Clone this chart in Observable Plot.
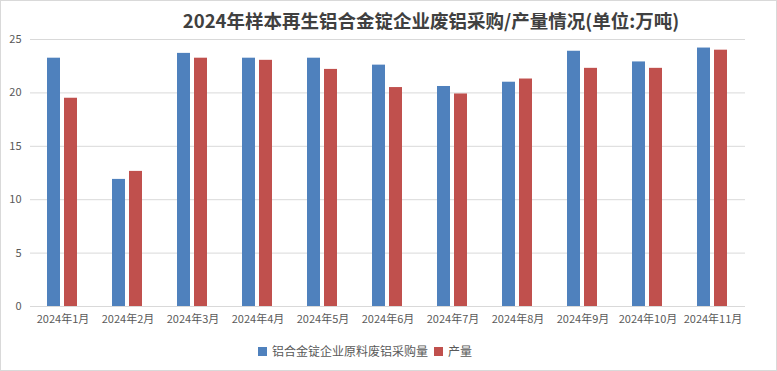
<!DOCTYPE html>
<html>
<head>
<meta charset="utf-8">
<script src="https://cdn.jsdelivr.net/npm/d3@7"></script>
<script src="https://cdn.jsdelivr.net/npm/@observablehq/plot@0.6"></script>
<style>
  html, body { margin: 0; padding: 0; background: #fff; }
  #chart { position: relative; width: 777px; height: 371px; overflow: hidden; font-family: "Noto Sans CJK SC", "Noto Sans", sans-serif; }
  #frame { position: absolute; left: 0; top: 0; width: 777px; height: 371px; box-sizing: border-box; border: 1px solid #d9d9d9; pointer-events: none; }
  #title { position: absolute; top: 5px; left: 431px; transform: translateX(-50%); white-space: nowrap; font-size: 18.5px; font-weight: bold; color: #404040; line-height: 30px; }
  .layer { position: absolute; left: 0; top: 30px; }
  .layer svg { display: block; }
  #legend { position: absolute; top: 342px; left: 258px; display: flex; align-items: center; font-size: 12px; color: #595959; line-height: 18px; white-space: nowrap; }
  .sw { display: inline-block; width: 9px; height: 9px; margin-right: 5px; }
  .item { display: flex; align-items: center; margin-right: 6px; }
</style>
</head>
<body>
<div id="chart">
  <div id="title"></div>
  <div id="back" class="layer"></div>
  <div id="bars" class="layer"></div>
  <div id="legend"></div>
  <div id="frame"></div>
</div>
<script>
const titleText = "2024年样本再生铝合金锭企业废铝采购/产量情况(单位:万吨)";
const months = ["2024年1月","2024年2月","2024年3月","2024年4月","2024年5月","2024年6月","2024年7月","2024年8月","2024年9月","2024年10月","2024年11月"];
const seriesNames = ["铝合金锭企业原料废铝采购量", "产量"];
const seriesColors = ["#4F81BD", "#C0504D"];
const purchase = [23.25, 11.9, 23.7, 23.25, 23.25, 22.6, 20.6, 21.0, 23.9, 22.9, 24.2];
const output = [19.5, 12.65, 23.25, 23.05, 22.2, 20.5, 19.9, 21.3, 22.3, 22.3, 24.0];
const yTicks = [0, 5, 10, 15, 20, 25];

const data = months.flatMap((m, i) => [
  {month: m, series: seriesNames[0], value: purchase[i]},
  {month: m, series: seriesNames[1], value: output[i]}
]);

document.getElementById("title").textContent = titleText;

const common = {
  width: 777,
  height: 305,
  marginTop: 9,
  marginBottom: 29,
  marginLeft: 30,
  marginRight: 32,
  style: {fontFamily: "'Noto Sans CJK SC', 'Noto Sans', sans-serif", fontSize: "11px", color: "#595959", background: "transparent"}
};

// Background: gridlines, y tick labels, month labels
const back = Plot.plot({
  ...common,
  x: {type: "band", domain: months, padding: 0, label: null},
  y: {domain: [0, 25], label: null},
  marks: [
    Plot.gridY(yTicks.filter(t => t > 0), {stroke: "#d9d9d9", strokeOpacity: 1}),
    Plot.ruleY([0], {stroke: "#d9d9d9"}),
    Plot.axisY(yTicks, {tickSize: 0, tickPadding: 9, label: null, fill: "#595959"}),
    Plot.axisX({tickSize: 0, tickPadding: 9, label: null, fill: "#595959"})
  ]
});
document.getElementById("back").appendChild(back);

// Foreground: grouped bars
const bars = Plot.plot({
  ...common,
  fx: {domain: months, paddingInner: 0.52, paddingOuter: 0.26, label: null, axis: null},
  x: {domain: seriesNames, paddingInner: 0.22, paddingOuter: 0, axis: null},
  y: {domain: [0, 25], axis: null},
  color: {domain: seriesNames, range: seriesColors},
  marks: [
    Plot.barY(data, {fx: "month", x: "series", y: "value", fill: "series"})
  ]
});
document.getElementById("bars").appendChild(bars);

const legend = document.getElementById("legend");
seriesNames.forEach((name, i) => {
  const item = document.createElement("div");
  item.className = "item";
  const sw = document.createElement("span");
  sw.className = "sw";
  sw.style.background = seriesColors[i];
  const label = document.createElement("span");
  label.textContent = name;
  item.appendChild(sw);
  item.appendChild(label);
  legend.appendChild(item);
});
</script>
</body>
</html>
